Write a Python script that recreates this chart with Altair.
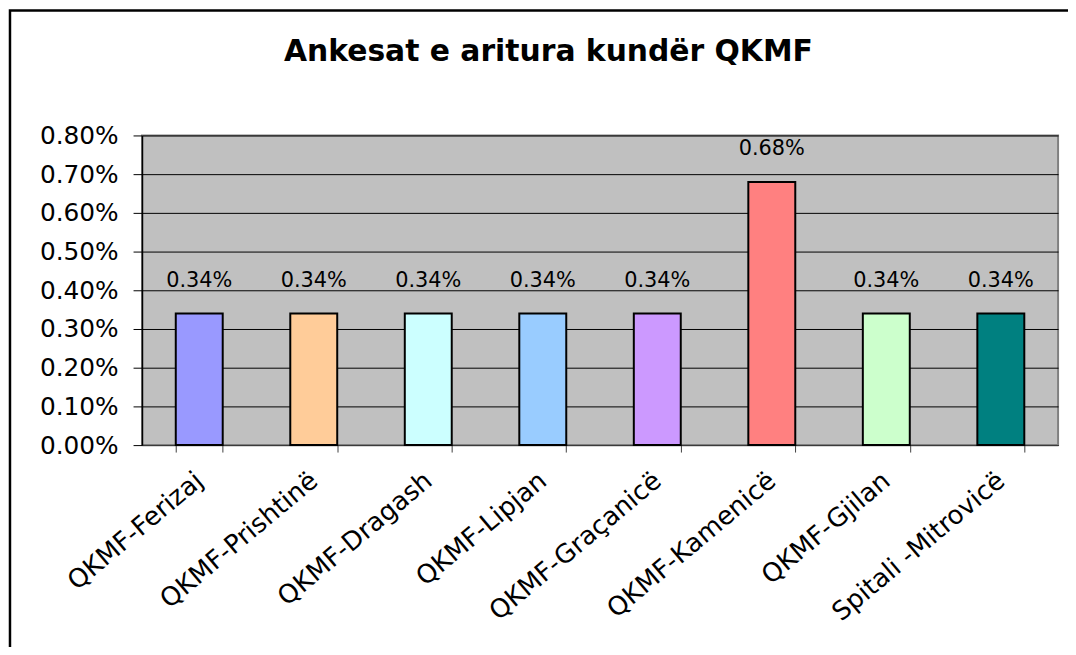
import altair as alt
import pandas as pd

categories = ["QKMF-Ferizaj", "QKMF-Prishtinë", "QKMF-Dragash", "QKMF-Lipjan",
              "QKMF-Graçanicë", "QKMF-Kamenicë", "QKMF-Gjilan", "Spitali -Mitrovicë"]
values = [0.0034, 0.0034, 0.0034, 0.0034, 0.0034, 0.0068, 0.0034, 0.0034]
colors = ["#9999FF", "#FFCC99", "#CCFFFF", "#99CCFF", "#CC99FF", "#FF8080", "#CCFFCC", "#008080"]
y_ticks = [0.0, 0.001, 0.002, 0.003, 0.004, 0.005, 0.006, 0.007, 0.008]
title_text = "Ankesat e aritura kundër QKMF"

FONT = "DejaVu Sans"

df = pd.DataFrame({"cat": categories, "val": values})

x_enc = alt.X(
    "cat:N", sort=categories,
    scale=alt.Scale(paddingInner=0.59, paddingOuter=0.295),
    axis=alt.Axis(title=None, labelAngle=-40, labelAlign="right", labelBaseline="middle",
                  labelFont=FONT, labelFontSize=26, labelColor="black", labelLimit=0,
                  labelOverlap=False,
                  tickBand="extent", tickSize=7, tickColor="#404040", tickWidth=1,
                  domainColor="#404040", domainWidth=1, labelPadding=25, grid=False),
)
y_enc = alt.Y(
    "val:Q",
    scale=alt.Scale(domain=[0, 0.008], nice=False),
    axis=alt.Axis(title=None, values=y_ticks, format=".2%", labelFont=FONT, labelFontSize=25,
                  labelColor="black", labelOverlap=False, tickSize=9, tickColor="black",
                  labelPadding=15, domainColor="black", domainWidth=1.5,
                  gridColor="black", gridWidth=1, gridOpacity=1),
)

bars = alt.Chart(df).mark_bar(stroke="black", strokeWidth=2).encode(
    x=x_enc, y=y_enc,
    color=alt.Color("cat:N", sort=categories,
                    scale=alt.Scale(domain=categories, range=colors), legend=None),
)

labels = alt.Chart(df).mark_text(dy=-33, font=FONT, fontSize=21, baseline="middle",
                                 color="black").encode(
    x=x_enc, y=y_enc,
    text=alt.Text("val:Q", format=".2%"),
)

frame = alt.Chart(pd.DataFrame({"f": [0]})).mark_rect(
    filled=False, stroke="black", strokeWidth=2.5
).encode(x=alt.value(-133), x2=alt.value(1000), y=alt.value(-126), y2=alt.value(600))

chart = alt.layer(frame, bars, labels).properties(
    width=923, height=312,
    background="white",
    title=alt.TitleParams(text=title_text, font=FONT, fontSize=30, fontWeight="bold",
                          color="black", anchor="middle", frame="group", dx=-52,
                          offset=-82, baseline="alphabetic"),
    autosize=alt.AutoSizeParams(type="none"),
    padding={"left": 135, "top": 126, "right": 10, "bottom": 201},
).configure_view(fill="#C0C0C0", stroke="#808080", strokeWidth=2)

chart.save("out.html", embed_options={"renderer": "svg", "actions": False})
